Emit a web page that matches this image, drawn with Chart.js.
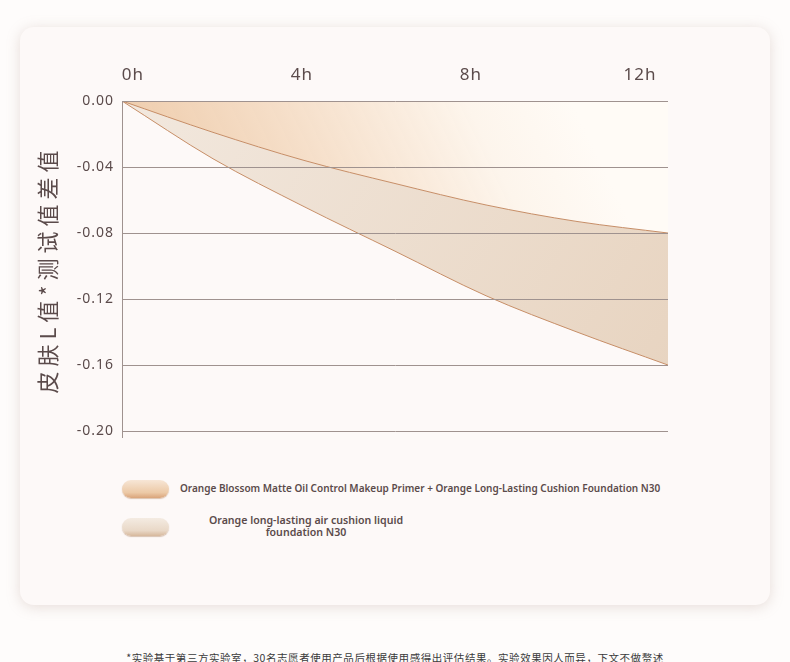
<!DOCTYPE html>
<html>
<head>
<meta charset="utf-8">
<script src="https://cdn.jsdelivr.net/npm/chart.js@4.4.1/dist/chart.umd.min.js"></script>
<style>
  html,body{margin:0;padding:0;background:#fefcfb;width:790px;height:662px;overflow:hidden;}
  #card{position:absolute;left:20px;top:27px;width:750px;height:578px;background:#fdf9f8;border-radius:14px;
        box-shadow:0 2px 14px rgba(170,140,130,0.28);}
  #wrap{position:absolute;left:0;top:0;width:790px;height:470px;}
  .leg{position:absolute;font-family:"Noto Sans","Open Sans",sans-serif;color:#5b4b4b;}
  .pill{position:absolute;left:122px;width:47px;height:18px;border-radius:9px;}
  #p1{top:480px;background:linear-gradient(#f7e6d6,#ecc9a6 70%,#d9a47a);box-shadow:0 1px 1px rgba(190,140,100,0.5);}
  #p2{top:518px;background:linear-gradient(#f4ebe2,#e9d8c7 70%,#d6b89c);box-shadow:0 1px 1px rgba(180,140,110,0.5);}
  #t1{left:180px;top:481px;font-size:10px;font-weight:600;white-space:nowrap;}
  #t2{left:180px;top:514px;width:252px;text-align:center;font-size:10.6px;font-weight:600;line-height:12px;}
  #foot{position:absolute;left:0;width:790px;top:650px;text-align:center;font-family:"Noto Sans CJK SC",sans-serif;font-size:10.5px;color:#3a3a3a;letter-spacing:0.55px;}
</style>
</head>
<body>
<div id="card"></div>
<div id="wrap"><canvas id="c"></canvas></div>
<div class="pill" id="p1"></div>
<div class="leg" id="t1">Orange Blossom Matte Oil Control Makeup Primer + Orange Long-Lasting Cushion Foundation N30</div>
<div class="pill" id="p2"></div>
<div class="leg" id="t2">Orange long-lasting air cushion liquid<br>foundation N30</div>
<div id="foot">*实验基于第三方实验室，30名志愿者使用产品后根据使用感得出评估结果。实验效果因人而异，下文不做赘述</div>
<script>
const hours = [0, 2, 4, 6, 8, 10, 12];
const primerPlusCushion = [0, -0.019, -0.036, -0.050, -0.063, -0.073, -0.080];
const cushionOnly = [0, -0.035, -0.064, -0.091, -0.118, -0.140, -0.160];
const topTickHours = [0, 4, 8, 12];
const yTicks = [0, -0.04, -0.08, -0.12, -0.16, -0.20];
const seriesNames = [
  'Orange Blossom Matte Oil Control Makeup Primer + Orange Long-Lasting Cushion Foundation N30',
  'Orange long-lasting air cushion liquid foundation N30'
];
const yTitle = '皮肤L值*测试值差值';

const lineColor = '#c68d66';
const textColor = '#5b4b4b';

function grad1(ctx) {
  const ca = ctx.chart.chartArea;
  if (!ca) return 'rgba(240,210,180,0.8)';
  const g = ctx.chart.ctx.createLinearGradient(ca.left, ca.top + 170, ca.left + 430, ca.top - 40);
  g.addColorStop(0, 'rgba(234,192,152,0.9)');
  g.addColorStop(0.45, 'rgba(245,221,198,0.95)');
  g.addColorStop(0.8, 'rgba(253,245,236,1)');
  g.addColorStop(1, 'rgba(255,251,246,1)');
  return g;
}
function grad2(ctx) {
  const ca = ctx.chart.chartArea;
  if (!ca) return 'rgba(236,222,208,0.9)';
  const g = ctx.chart.ctx.createLinearGradient(ca.left, ca.top, ca.right, ca.bottom);
  g.addColorStop(0, 'rgba(242,232,222,1)');
  g.addColorStop(1, 'rgba(231,211,191,1)');
  return g;
}

const spacingPlugin = {
  id: 'spacing',
  beforeDraw(chart) { chart.ctx.letterSpacing = '1px'; },
  afterDraw(chart) {
    const ctx = chart.ctx;
    ctx.save();
    ctx.letterSpacing = '5px';
    ctx.fillStyle = textColor;
    ctx.font = '22px "Noto Sans CJK SC"';
    ctx.textAlign = 'center';
    ctx.textBaseline = 'middle';
    ctx.translate(48, 272);
    ctx.rotate(-Math.PI / 2);
    ctx.fillText(yTitle, 2.5, 0);
    ctx.restore();
  }
};

new Chart(document.getElementById('c'), {
  type: 'line',
  plugins: [spacingPlugin],
  data: {
    datasets: [
      {
        label: seriesNames[0],
        data: hours.map((h, i) => ({x: h, y: primerPlusCushion[i]})),
        borderColor: lineColor, borderWidth: 1, pointRadius: 0,
        fill: {value: 0}, backgroundColor: grad1,
        cubicInterpolationMode: 'monotone'
      },
      {
        label: seriesNames[1],
        data: hours.map((h, i) => ({x: h, y: cushionOnly[i]})),
        borderColor: lineColor, borderWidth: 1, pointRadius: 0,
        fill: '-1', backgroundColor: grad2,
        cubicInterpolationMode: 'monotone'
      }
    ]
  },
  options: {
    responsive: true, maintainAspectRatio: false, animation: false,
    layout: {padding: {left: 30, right: 122, top: 0, bottom: 33}},
    plugins: {legend: {display: false}, tooltip: {enabled: false}},
    scales: {
      x: {type: 'linear', min: 0, max: 12, display: false},
      x2: {
        type: 'linear', position: 'top', min: -0.26, max: 12.663,
        afterFit: s => { s.height = 101; },
        afterBuildTicks: s => { s.ticks = topTickHours.map(v => ({value: v})); },
        grid: {display: false}, border: {display: false},
        ticks: {padding: 8, color: textColor, font: {family: 'Noto Sans', size: 17},
                callback: v => v + 'h', maxRotation: 0, autoSkip: false}
      },
      y: {
        type: 'linear', min: -0.2036, max: 0,
        afterFit: s => { s.width = 92; },
        afterBuildTicks: s => { s.ticks = yTicks.map(v => ({value: v})); },
        grid: {color: '#9f928f', lineWidth: 1, drawTicks: false, z: 1},
        border: {display: true, color: '#9f928f', z: 1},
        ticks: {padding: 8, color: textColor, font: {family: 'Noto Sans', size: 14},
                callback: v => Math.abs(v) < 1e-9 ? '0.00' : v.toFixed(2)}
      }
    }
  }
});
</script>
</body>
</html>
